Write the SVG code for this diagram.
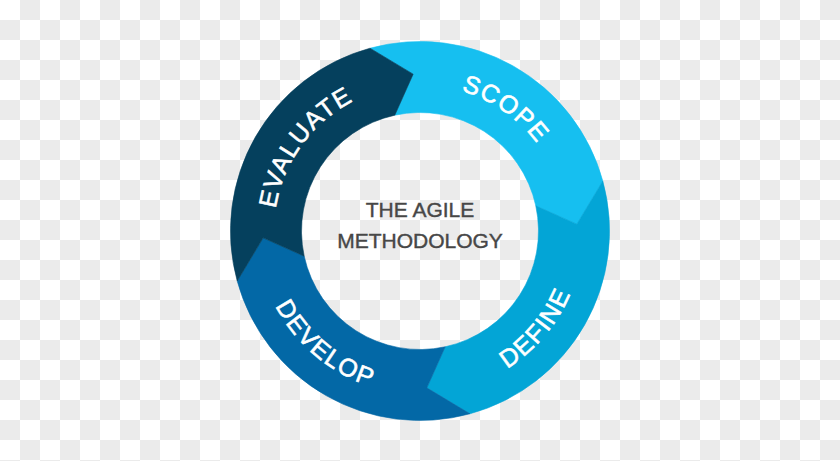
<svg xmlns="http://www.w3.org/2000/svg" width="840" height="461" viewBox="0 0 840 461">
  <defs>
    <pattern id="checker" x="0" y="0" width="40" height="40" patternUnits="userSpaceOnUse">
      <rect x="0" y="0" width="40" height="40" fill="#ffffff"/>
      <rect x="20" y="0" width="20" height="20" fill="#ebebeb"/>
      <rect x="0" y="20" width="20" height="20" fill="#ebebeb"/>
    </pattern>
    <path id="p-scope" d="M 394.65 87.22 A 146 146 0 0 1 563.78 205.65"/>
    <path id="p-evaluate" d="M 275.8 253.8 A 146 146 0 0 1 397.2 86.8"/>
    <path id="p-define" d="M 434.2 393.4 A 163 163 0 0 0 582.4 216.8"/>
    <path id="p-develop" d="M 257.6 245.2 A 163 163 0 0 0 434.2 393.4"/>
  </defs>
  <style>
    .seg { stroke-width: 0.6; stroke-linejoin: round; }
    .lbl { font-family: "Liberation Sans", Arial, sans-serif; font-size: 25px; fill: #ffffff; stroke: #ffffff; stroke-width: 0.6px; letter-spacing: 1.5px; }
    .title { font-family: "Liberation Sans", Arial, sans-serif; font-size: 21px; fill: #474747; stroke: #474747; stroke-width: 0.4px; text-anchor: middle; }
  </style>
  <rect x="0" y="0" width="840" height="461" fill="url(#checker)"/>

  <g id="connectors"></g>

  <g id="node-scope">
    <path class="seg" fill="#16bff0" stroke="#16bff0" d="M 370.0 48.2 A 189.5 189.5 0 0 1 602.8 181.0 L 576.85 224.15 L 535.8 205.8 A 118.5 118.5 0 0 0 394.8 115.2 L 413.15 74.15 Z"/>
    <text class="lbl"><textPath href="#p-scope" startOffset="50%" text-anchor="middle">SCOPE</textPath></text>
  </g>
  <g id="node-define">
    <path class="seg" fill="#03a5d6" stroke="#03a5d6" d="M 602.8 181.0 A 189.5 189.5 0 0 1 470.0 413.8 L 426.85 387.85 L 445.2 346.8 A 118.5 118.5 0 0 0 535.8 205.8 L 576.85 224.15 Z"/>
    <text class="lbl"><textPath href="#p-define" startOffset="50%" text-anchor="middle">DEFINE</textPath></text>
  </g>
  <g id="node-develop">
    <path class="seg" fill="#0368a6" stroke="#0368a6" d="M 470.0 413.8 A 189.5 189.5 0 0 1 237.2 281.0 L 263.15 237.85 L 304.2 256.2 A 118.5 118.5 0 0 0 445.2 346.8 L 426.85 387.85 Z"/>
    <text class="lbl"><textPath href="#p-develop" startOffset="50%" text-anchor="middle">DEVELOP</textPath></text>
  </g>
  <g id="node-evaluate">
    <path class="seg" fill="#05405d" stroke="#05405d" d="M 237.2 281.0 A 189.5 189.5 0 0 1 370.0 48.2 L 413.15 74.15 L 394.8 115.2 A 118.5 118.5 0 0 0 304.2 256.2 L 263.15 237.85 Z"/>
    <text class="lbl"><textPath href="#p-evaluate" startOffset="50%" text-anchor="middle">EVALUATE</textPath></text>
  </g>

  <g id="node-center">
    <text class="title" x="420" y="217">THE AGILE</text>
    <text class="title" x="420" y="248">METHODOLOGY</text>
  </g>
</svg>
